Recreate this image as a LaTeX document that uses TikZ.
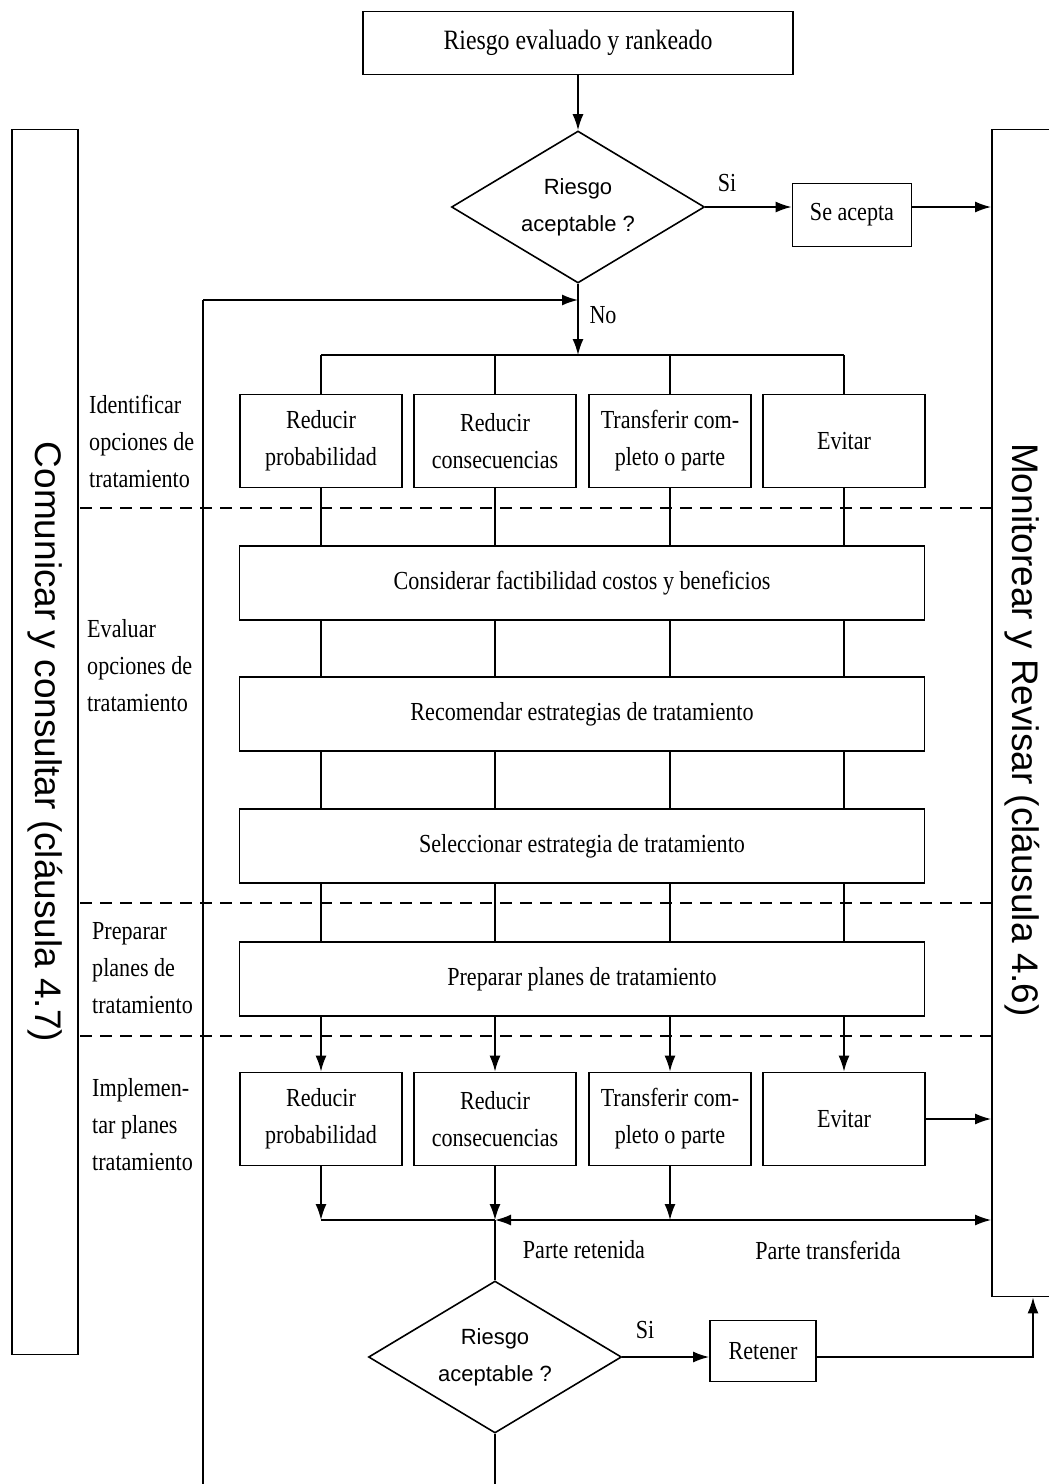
\documentclass[tikz,border=0pt]{standalone}
\usepackage{fontspec}
\setmainfont{Liberation Serif}[FakeStretch=0.85]
\newfontfamily\rotsans{Liberation Sans}
\usetikzlibrary{shapes.geometric,arrows.meta}

\begin{document}
\begin{tikzpicture}[x=1pt,y=-1pt,
    caja/.style={draw,line width=1.8pt,inner sep=2pt,align=center,
        font=\fontsize{26}{37}\selectfont},
    opcion/.style={caja,minimum width=162,minimum height=93},
    ancha/.style={caja,minimum width=685,minimum height=74},
    rombo/.style={draw,diamond,aspect=1.66,line width=1.6pt,inner sep=0pt,
        minimum width=253,minimum height=152,align=center,
        font=\rotsans\fontsize{22}{37}\selectfont},
    texto/.style={inner sep=0pt,font=\fontsize{26}{37}\selectfont},
    etiq/.style={texto,align=left,anchor=west},
    lateral/.style={rotate=-90,inner sep=0pt,font=\rotsans\fontsize{37}{40}\selectfont},
    linea/.style={line width=1.6pt},
    flecha/.style={linea,-{Latex[length=16pt,width=11pt]}},
    divisor/.style={line width=1.6pt,dash pattern=on 12pt off 8pt}]
\useasboundingbox (0,0) rectangle (1049,1484);

% columnas laterales
\node[caja,minimum width=66,minimum height=1225] (comu) at (45,742) {};
\node[lateral] (comutxt) at (comu) {Comunicar y consultar (cláusula 4.7)};
\node[caja,minimum width=72,minimum height=1167] (moni) at (1028,713) {};
\node[lateral] (monitxt) at (1022,730) {Monitorear y Revisar (cláusula 4.6)};

% fases
\foreach \y in {508,903,1036}
    \draw[divisor] (80,\y) -- (992,\y);
\node[etiq] (fase1) at (89,441) {Identificar\\opciones de\\tratamiento};
\node[etiq] (fase2) at (87,666) {Evaluar\\opciones de\\tratamiento};
\node[etiq] (fase3) at (92,968) {Preparar\\planes de\\tratamiento};
\node[etiq] (fase4) at (92,1125) {Implemen-\\tar planes\\tratamiento};

% decision inicial
\node[caja,minimum width=430,minimum height=63,font=\fontsize{28}{37}\selectfont]
    (eval) at (578,43) {Riesgo evaluado y rankeado};
\node[rombo] (acep1) at (578,207) {Riesgo\\aceptable ?};
\node[caja,minimum width=119,minimum height=63] (sea) at (852,215) {Se acepta};
\node[texto] (si1) at (727,183) {Si};
\node[texto] (no) at (603,315) {No};

% opciones
\foreach \n/\x/\t in {1/321/{Reducir\\probabilidad},2/495/{Reducir\\consecuencias},
        3/670/{Transferir com-\\pleto o parte},4/844/Evitar} {
    \node[opcion] (a\n) at (\x,441) {\t};
    \node[opcion] (b\n) at (\x,1119) {\t};
}
\node[ancha] (consid) at (582,583) {Considerar factibilidad costos y beneficios};
\node[ancha] (recom) at (582,714) {Recomendar estrategias de tratamiento};
\node[ancha] (selec) at (582,846) {Seleccionar estrategia de tratamiento};
\node[ancha] (prep) at (582,979) {Preparar planes de tratamiento};

% decision final
\node[rombo] (acep2) at (495,1357) {Riesgo\\aceptable ?};
\node[caja,minimum width=106,minimum height=61] (retener) at (763,1351) {Retener};
\node[texto] (si2) at (645,1330) {Si};
\node[texto] (pret) at (584,1250) {Parte retenida};
\node[texto] (ptra) at (828,1250) {Parte transferida};

\coordinate (dist) at (578,355);
\coordinate (vuelta) at (203,300);
\coordinate (fondo) at (203,1500);
\coordinate (ret) at (495,1220);
\coordinate (tra) at (670,1220);

\draw[flecha] (eval.south) -- (acep1.north);
\draw[flecha] (acep1.east) -- (acep1.east -| sea.west);
\draw[flecha] (sea.east |- acep1.east) -- (acep1.east -| moni.west);
\draw[flecha] (acep1.south) -- (dist);
\draw[linea] (a1.north |- dist) -- (a4.north |- dist);
\foreach \n in {1,...,4} {
    \draw[linea] (a\n.north |- dist) -- (a\n.north);
    \draw[linea] (a\n.south) -- (a\n.south |- consid.north);
    \draw[linea] (a\n.south |- consid.south) -- (a\n.south |- recom.north);
    \draw[linea] (a\n.south |- recom.south) -- (a\n.south |- selec.north);
    \draw[linea] (a\n.south |- selec.south) -- (a\n.south |- prep.north);
    \draw[flecha] (a\n.south |- prep.south) -- (b\n.north);
}
\foreach \n in {1,2,3}
    \draw[flecha] (b\n.south) -- (b\n.south |- ret);
\draw[linea] (b1.south |- ret) -- (ret);
\draw[flecha] (tra) -- (ret);
\draw[flecha] (tra) -- (tra -| moni.west);
\draw[flecha] (b4.east) -- (b4.east -| moni.west);
\draw[linea] (ret) -- (acep2.north);
\draw[flecha] (acep2.east) -- (acep2.east -| retener.west);
\draw[flecha] (retener.east |- acep2.east) -| ([xshift=5pt]moni.south);
\draw[linea] (acep2.south) -- (acep2.south |- fondo) -- (fondo) -- (vuelta);
\draw[flecha] (vuelta) -- (vuelta -| acep1.south);
\end{tikzpicture}
\end{document}
